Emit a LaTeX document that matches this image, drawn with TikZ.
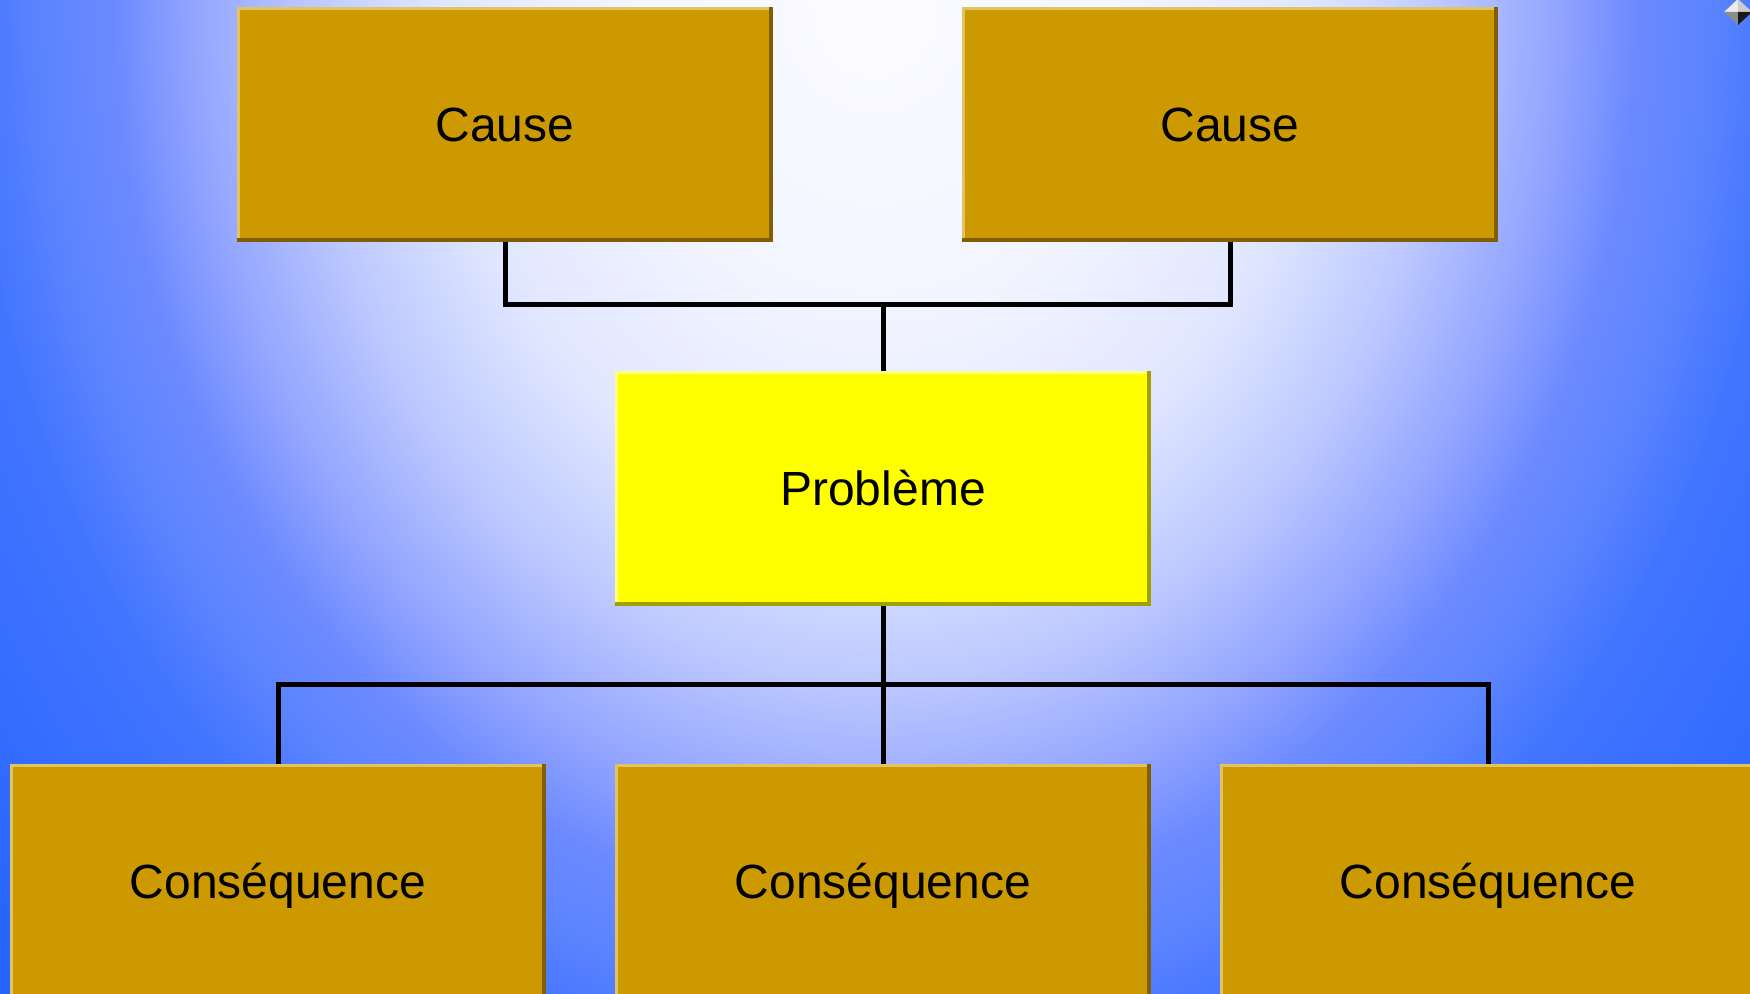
\documentclass[tikz,border=0pt]{standalone}
\usepackage{fontspec}
\setmainfont{Liberation Sans}
\definecolor{bgA}{HTML}{FCFCFF}
\definecolor{bgB}{HTML}{F2F4FF}
\definecolor{bgC}{HTML}{E0E6FF}
\definecolor{bgD}{HTML}{BCC8FF}
\definecolor{bgE}{HTML}{92A4FF}
\definecolor{bgF}{HTML}{6C8AFF}
\definecolor{bgG}{HTML}{5C84FF}
\definecolor{bgH}{HTML}{4275FF}
\definecolor{bgI}{HTML}{2262FF}
\definecolor{gold}{HTML}{CC9900}
\definecolor{goldL}{HTML}{E0C464}
\definecolor{goldD}{HTML}{7F5F00}
\definecolor{yel}{HTML}{FFFF00}
\definecolor{yelL}{HTML}{FFFF80}
\definecolor{yelD}{HTML}{A0A000}
\pgfdeclareradialshading{bgshade}{\pgfpoint{0bp}{0bp}}{%
color(0bp)=(bgA); color(7.5bp)=(bgB); color(12.5bp)=(bgC); color(16.25bp)=(bgD);
color(19.5bp)=(bgE); color(21.75bp)=(bgF); color(23.75bp)=(bgG); color(26bp)=(bgH);
color(35bp)=(bgI); color(50bp)=(bgI)}
\tikzset{
  edges/.style n args={2}{path picture={
    \fill[#1] (path picture bounding box.north west) rectangle ([yshift=-1.5pt]path picture bounding box.north east);
    \fill[#1] (path picture bounding box.north west) rectangle ([xshift=1.5pt]path picture bounding box.south west);
    \fill[#2] ([xshift=-2pt]path picture bounding box.north east) rectangle (path picture bounding box.south east);
    \fill[#2] ([yshift=2pt]path picture bounding box.south west) rectangle (path picture bounding box.south east);
  }},
  boxbase/.style={inner sep=0pt, minimum width=268pt, minimum height=117.5pt,
    text height=21pt, text depth=3.6pt,
    font=\fontsize{24}{28}\selectfont, text=black},
  goldbox/.style={boxbase, fill=gold, edges={goldL}{goldD}},
  yelbox/.style={boxbase, fill=yel, edges={yelL}{yelD}},
  conn/.style={draw=black, line width=2.5pt, miter limit=10}
}
\begin{document}
\begin{tikzpicture}[x=0.5pt,y=-0.5pt]
\useasboundingbox (0,0) rectangle (1750,994);
\begin{scope}
\clip (0,0) rectangle (1750,994);
\shade[shading=bgshade] (0,-1050) rectangle (1750,1050);

\coordinate (j1) at (883,305);
\coordinate (j2) at (883,684);

\node[goldbox] (c1) at (505,124.5) {Cause};
\node[goldbox] (c2) at (1230,124.5) {Cause};
\node[yelbox]  (p)  at (883,488.5) {Problème};
\node[goldbox] (q1) at (278,881.5) {Conséquence};
\node[goldbox] (q2) at (883,881.5) {Conséquence};
\node[goldbox] (q3) at (1488,881.5) {Conséquence};

\draw[conn] (c1.south) |- (j1) -| (c2.south);
\draw[conn] (j1) -- (p.north);
\draw[conn] (p.south) -- (j2);
\draw[conn] (q1.north) |- (j2) -| (q3.north);
\draw[conn] (j2) -- (q2.north);

% corner indicator
\coordinate (dt) at (1738,-1);
\coordinate (dl) at (1724,12);
\coordinate (db) at (1738,25);
\coordinate (dr) at (1752,12);
\coordinate (dc) at (1738,12);
\fill[white!92!black] (dt) -- (dl) -- (dc) -- cycle;
\fill[white!80!black] (dt) -- (dr) -- (dc) -- cycle;
\fill[white!55!black] (dl) -- (db) -- (dc) -- cycle;
\fill[black!90] (dr) -- (db) -- (dc) -- cycle;
\end{scope}
\end{tikzpicture}
\end{document}
